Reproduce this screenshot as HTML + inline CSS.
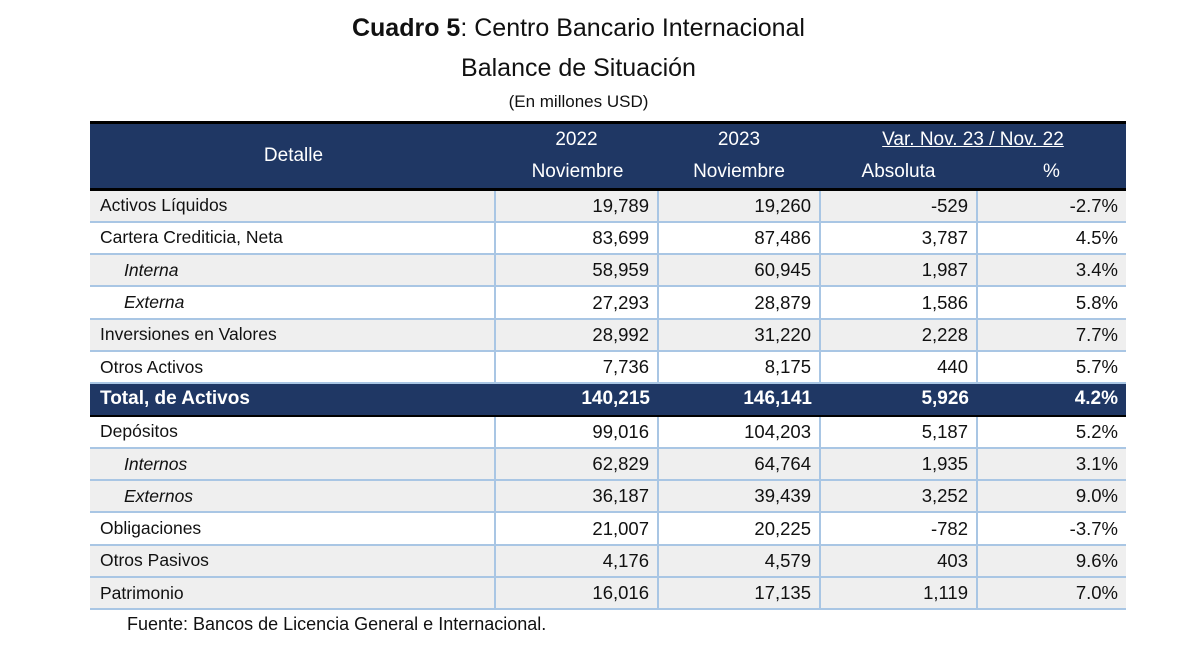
<!DOCTYPE html>
<html><head><meta charset="utf-8"><style>
body{margin:0;width:1200px;height:649px;background:#fff;font-family:"Liberation Sans",sans-serif;position:relative;overflow:hidden;color:#111}
.t{position:absolute;left:0;width:1157px;text-align:center}
table{position:absolute;left:90px;top:121px;border-collapse:collapse;width:1036px;table-layout:fixed}
td{height:32.3px;padding:0 8px;font-size:18.5px;text-align:right;border-right:2px solid #a9c6e4;border-bottom:2px solid #a9c6e4;box-sizing:border-box}
td:first-child{text-align:left;font-size:17.5px;padding-left:10px}
td:last-child{border-right:none}
tr.g td{background:#efefef}
tr.w td{background:#fff}
td.i{font-style:italic;padding-left:34px}
.hd td{background:#1f3764;color:#fff;border:none;height:33.5px;text-align:center;font-size:19px}
.tot td{background:#1f3764;color:#fff;font-weight:bold;border:none;border-top:2px solid #000;border-bottom:2px solid #000;font-size:19px}
</style></head><body>
<div class="t" style="top:14px;font-size:25px"><b>Cuadro 5</b>: Centro Bancario Internacional</div>
<div class="t" style="top:54px;font-size:25px">Balance de Situación</div>
<div class="t" style="top:92px;font-size:17px">(En millones USD)</div>
<table>
<colgroup><col style="width:405px"><col style="width:163px"><col style="width:162px"><col style="width:157px"><col style="width:149px"></colgroup>
<tr class="hd"><td rowspan="2" style="text-align:center;border-top:3px solid #000;border-bottom:3px solid #000">Detalle</td><td style="border-top:3px solid #000">2022</td><td style="border-top:3px solid #000">2023</td><td colspan="2" style="border-top:3px solid #000;text-decoration:underline">Var. Nov. 23 / Nov. 22</td></tr>
<tr class="hd"><td style="border-bottom:3px solid #000">Noviembre</td><td style="border-bottom:3px solid #000">Noviembre</td><td style="border-bottom:3px solid #000">Absoluta</td><td style="border-bottom:3px solid #000">%</td></tr>
<tr class="g"><td>Activos Líquidos</td><td>19,789</td><td>19,260</td><td>-529</td><td>-2.7%</td></tr>
<tr class="w"><td>Cartera Crediticia, Neta</td><td>83,699</td><td>87,486</td><td>3,787</td><td>4.5%</td></tr>
<tr class="g"><td class="i">Interna</td><td>58,959</td><td>60,945</td><td>1,987</td><td>3.4%</td></tr>
<tr class="w"><td class="i">Externa</td><td>27,293</td><td>28,879</td><td>1,586</td><td>5.8%</td></tr>
<tr class="g"><td>Inversiones en Valores</td><td>28,992</td><td>31,220</td><td>2,228</td><td>7.7%</td></tr>
<tr class="w"><td>Otros Activos</td><td>7,736</td><td>8,175</td><td>440</td><td>5.7%</td></tr>
<tr class="tot"><td style="font-size:19px">Total, de Activos</td><td>140,215</td><td>146,141</td><td>5,926</td><td>4.2%</td></tr>
<tr class="w"><td>Depósitos</td><td>99,016</td><td>104,203</td><td>5,187</td><td>5.2%</td></tr>
<tr class="g"><td class="i">Internos</td><td>62,829</td><td>64,764</td><td>1,935</td><td>3.1%</td></tr>
<tr class="g"><td class="i">Externos</td><td>36,187</td><td>39,439</td><td>3,252</td><td>9.0%</td></tr>
<tr class="w"><td>Obligaciones</td><td>21,007</td><td>20,225</td><td>-782</td><td>-3.7%</td></tr>
<tr class="g"><td>Otros Pasivos</td><td>4,176</td><td>4,579</td><td>403</td><td>9.6%</td></tr>
<tr class="g"><td>Patrimonio</td><td>16,016</td><td>17,135</td><td>1,119</td><td>7.0%</td></tr>
</table>
<div style="position:absolute;left:127px;top:614px;font-size:18px">Fuente: Bancos de Licencia General e Internacional.</div>
</body></html>
